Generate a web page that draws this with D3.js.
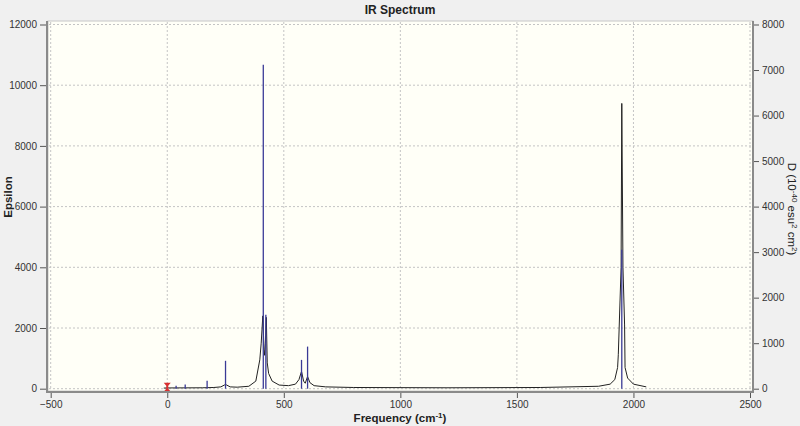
<!DOCTYPE html>
<html>
<head>
<meta charset="utf-8">
<style>
  body { margin: 0; background: #f0f0f0; }
  text { font-family: "Liberation Sans", Arial, sans-serif; fill: #222; }
</style>
</head>
<body>
<script src="https://d3js.org/d3.v7.min.js"></script>
<script>
// stick spectrum (frequency in cm-1, dipole strength D on right axis)
var stickFreq = [38, 77, 171, 250, 412, 423, 576, 602, 1950];
var stickD    = [65, 90, 175, 613, 7115, 1623, 633, 925, 3050];

// broadened curve (epsilon, left axis)
var curveFreq = [-15, 0, 150, 200, 230, 245, 250, 255, 270, 300, 350, 380, 397, 403, 410, 415, 418, 421, 425, 429, 435, 450, 480, 520, 550, 565, 576, 585, 592, 602, 612, 630, 680, 800, 1200, 1600, 1850, 1900, 1920, 1932, 1935, 1947, 1950, 1955, 1962, 1964, 1975, 2000, 2055];
var curveEps  = [20, 25, 30, 40, 60, 120, 150, 120, 60, 50, 80, 250, 950, 1500, 2400, 1300, 1100, 1500, 2350, 850, 500, 250, 120, 100, 150, 300, 570, 250, 180, 400, 200, 100, 60, 40, 30, 40, 80, 150, 300, 700, 1120, 4000, 9400, 4000, 2100, 700, 350, 150, 60];

var xTicks = [-500, 0, 500, 1000, 1500, 2000, 2500];
var leftTicks = [0, 2000, 4000, 6000, 8000, 10000, 12000];
var rightTicks = [0, 1000, 2000, 3000, 4000, 5000, 6000, 7000, 8000];

var W = 800, H = 426;
var plot = {left: 48, right: 753, top: 21, bottom: 391};

var svg = d3.select("body").append("svg")
    .attr("width", W)
    .attr("height", H);

var x = d3.scaleLinear().domain([-500, 2500]).range([50.7, 750]);
var yL = d3.scaleLinear().domain([0, 12000]).range([388.7, 24.5]);
var yR = d3.scaleLinear().domain([0, 8000]).range([388.7, 24.5]);

// plot background
svg.append("rect")
    .attr("x", plot.left).attr("y", plot.top)
    .attr("width", plot.right - plot.left).attr("height", plot.bottom - plot.top)
    .style("fill", "#fffff7")
    .style("stroke", "#c8c8c8")
    .style("stroke-width", 1);

// grid
svg.append("g").selectAll("line").data(xTicks).enter().append("line")
    .attr("x1", function(d) { return x(d); }).attr("x2", function(d) { return x(d); })
    .attr("y1", plot.top + 1).attr("y2", plot.bottom - 1)
    .style("stroke", "#c4c4c4").style("stroke-dasharray", "2,2");
svg.append("g").selectAll("line").data(leftTicks).enter().append("line")
    .attr("x1", plot.left + 1).attr("x2", plot.right - 1)
    .attr("y1", function(d) { return yL(d); }).attr("y2", function(d) { return yL(d); })
    .style("stroke", "#c4c4c4").style("stroke-dasharray", "2,2");

// curve
var line = d3.line()
    .x(function(d, i) { return x(curveFreq[i]); })
    .y(function(d, i) { return yL(curveEps[i]); });
svg.append("path")
    .attr("d", line(curveFreq))
    .style("fill", "none")
    .style("stroke", "#222")
    .style("stroke-width", 1);

// sticks
svg.append("g").selectAll("line").data(stickFreq).enter().append("line")
    .attr("x1", function(d) { return x(d); }).attr("x2", function(d) { return x(d); })
    .attr("y1", yR(0)).attr("y2", function(d, i) { return yR(stickD[i]); })
    .style("stroke", "#3a3a96")
    .style("stroke-width", 1.3);

// red marker at origin
var mx = x(0), my = yL(0);
svg.append("path")
    .attr("d", "M" + (mx - 3.5) + "," + (my - 6) + "h7l-2.5,3v3l2.5,3h-7l2.5,-3v-3z")
    .style("fill", "#d83030");

// axes
var xAxis = d3.axisBottom(x).tickValues(xTicks).tickSize(6).tickPadding(3).tickFormat(d3.format("d"));
var xMinor = d3.axisBottom(x).tickValues(d3.range(-500, 2501, 50)).tickSize(4).tickFormat("");
var gx = svg.append("g").attr("transform", "translate(0," + (plot.bottom + 1) + ")");
gx.call(xMinor);
gx.call(xAxis);

var gyl = svg.append("g").attr("transform", "translate(" + (plot.left - 1) + ",0)");
gyl.call(d3.axisLeft(yL).tickValues(d3.range(0, 12001, 1000)).tickSize(4).tickFormat(""));
gyl.call(d3.axisLeft(yL).tickValues(leftTicks).tickSize(7).tickPadding(3).tickFormat(d3.format("d")));

var gyr = svg.append("g").attr("transform", "translate(" + (plot.right) + ",0)");
gyr.call(d3.axisRight(yR).tickValues(d3.range(0, 8001, 500)).tickSize(4).tickFormat(""));
gyr.call(d3.axisRight(yR).tickValues(rightTicks).tickSize(6).tickPadding(3).tickFormat(d3.format("d")));

svg.selectAll(".domain").remove();
svg.selectAll(".tick line").style("stroke", "#555");
svg.selectAll(".tick text").style("font-size", "10px").style("fill", "#333")
    .style("font-family", "'Liberation Sans', Arial, sans-serif");

// axis lines
svg.append("line").attr("x1", plot.left - 1).attr("x2", plot.left - 1)
    .attr("y1", plot.top).attr("y2", plot.bottom + 1)
    .style("stroke", "#8a8a8a").style("stroke-width", 2);
svg.append("line").attr("x1", plot.right).attr("x2", plot.right)
    .attr("y1", plot.top).attr("y2", plot.bottom + 1)
    .style("stroke", "#8a8a8a").style("stroke-width", 2);
svg.append("line").attr("x1", plot.left - 2).attr("x2", plot.right + 1)
    .attr("y1", plot.bottom + 1).attr("y2", plot.bottom + 1)
    .style("stroke", "#8a8a8a").style("stroke-width", 2);

// titles
svg.append("text").attr("x", 400).attr("y", 14).attr("text-anchor", "middle")
    .style("font-size", "12px").style("font-weight", "bold").text("IR Spectrum");

var xl = svg.append("text").attr("x", 400).attr("y", 422).attr("text-anchor", "middle")
    .style("font-size", "11.5px").style("font-weight", "bold");
xl.append("tspan").text("Frequency (cm");
xl.append("tspan").attr("dy", -4).style("font-size", "8px").text("-1");
xl.append("tspan").attr("dy", 4).text(")");

svg.append("text").attr("transform", "translate(12,197) rotate(-90)").attr("text-anchor", "middle")
    .style("font-size", "11.5px").style("font-weight", "bold").text("Epsilon");

var rl = svg.append("text").attr("transform", "translate(788,209) rotate(90)").attr("text-anchor", "middle")
    .style("font-size", "11.5px");
rl.append("tspan").text("D (10");
rl.append("tspan").attr("dy", -4).style("font-size", "8px").text("-40");
rl.append("tspan").attr("dy", 4).text(" esu");
rl.append("tspan").attr("dy", -4).style("font-size", "8px").text("2");
rl.append("tspan").attr("dy", 4).text(" cm");
rl.append("tspan").attr("dy", -4).style("font-size", "8px").text("2");
rl.append("tspan").attr("dy", 4).text(")");
</script>
</body>
</html>
